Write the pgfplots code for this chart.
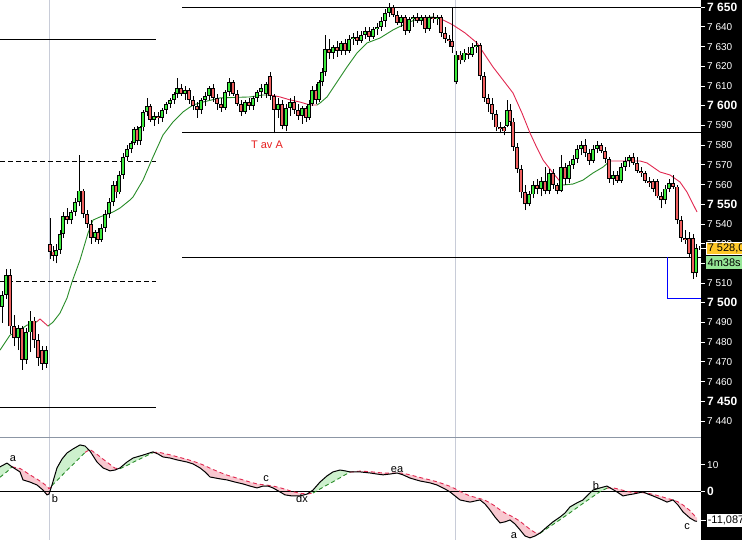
\documentclass[border=0pt]{standalone}
\usepackage{pgfplots}
\pgfplotsset{compat=1.18}
\usepackage{pgfplotstable}
\usepackage{fontspec}
\setmainfont{Liberation Sans}

\definecolor{cgreen}{RGB}{60,235,60}
\definecolor{cred}{RGB}{240,96,96}
\definecolor{magreen}{RGB}{40,140,40}
\definecolor{mared}{RGB}{225,40,80}
\definecolor{fgreen}{RGB}{205,240,205}
\definecolor{fpink}{RGB}{248,200,208}
\definecolor{tred}{RGB}{230,30,30}
\definecolor{vgray}{RGB}{200,204,216}
\definecolor{sepgray}{RGB}{140,150,165}
\definecolor{pyellow}{RGB}{255,200,40}
\definecolor{tgreen}{RGB}{150,230,150}

\newcommand{\nl}[1]{\fontsize{10bp}{12bp}\selectfont #1}
\newcommand{\bl}[1]{\fontsize{12bp}{14bp}\selectfont\bfseries #1}
\newcommand{\lbl}{\fontsize{11bp}{13bp}\selectfont}

\pgfplotstableread{
x o h l c
2 7498 7506 7490 7504
6 7504 7517 7502 7514
10 7514 7517 7484 7488
14 7488 7494 7478 7482
18 7482 7489 7476 7487
22 7487 7488 7466 7471
26 7471 7487 7469 7485
30 7485 7496 7475 7491
34 7491 7493 7477 7481
38 7481 7484 7468 7472
42 7476 7478 7466 7469
46 7469 7478 7467 7476
50 7530 7543 7522 7526
53 7526 7529 7521 7524
56 7524 7530 7520 7527
60 7527 7537 7525 7535
63 7535 7546 7533 7544
67 7544 7548 7540 7542
71 7542 7547 7540 7546
75 7546 7553 7544 7551
79 7551 7575 7549 7557
83 7557 7558 7543 7545
87 7545 7547 7538 7540
91 7540 7542 7530 7533
95 7533 7537 7531 7536
98 7536 7538 7530 7532
101 7532 7540 7531 7538
105 7538 7547 7536 7545
109 7545 7553 7543 7551
113 7551 7562 7549 7560
116 7560 7562 7553 7556
119 7556 7567 7555 7565
123 7565 7576 7563 7574
127 7574 7580 7572 7578
131 7578 7582 7576 7581
134 7581 7589 7580 7588
137 7588 7590 7580 7582
140 7582 7590 7580 7589
143 7589 7598 7587 7597
147 7597 7604 7595 7600
150 7600 7601 7592 7593
154 7593 7597 7590 7595
158 7595 7597 7591 7594
162 7594 7599 7592 7598
166 7598 7602 7596 7601
170 7601 7604 7599 7603
174 7603 7607 7601 7606
177 7606 7614 7604 7609
181 7609 7611 7605 7606
185 7606 7610 7603 7608
189 7608 7609 7601 7603
193 7603 7605 7598 7600
197 7600 7602 7594 7598
201 7598 7604 7596 7603
205 7603 7607 7600 7605
209 7605 7610 7603 7609
213 7609 7611 7602 7604
217 7604 7606 7598 7601
221 7601 7604 7597 7599
225 7599 7608 7598 7607
229 7607 7614 7605 7612
233 7612 7613 7605 7606
237 7606 7608 7600 7601
241 7601 7603 7595 7597
245 7597 7603 7596 7602
249 7602 7604 7598 7600
253 7600 7605 7598 7604
257 7604 7608 7602 7607
261 7607 7611 7604 7609
266 7606 7612 7604 7611
270 7615 7617 7603 7605
274 7605 7606 7586 7598
278 7598 7604 7594 7601
282 7601 7603 7588 7590
286 7590 7601 7587 7599
290 7599 7604 7595 7602
294 7602 7605 7596 7598
298 7598 7601 7593 7595
302 7595 7600 7591 7599
306 7599 7600 7592 7594
309 7594 7603 7593 7601
312 7601 7610 7600 7608
316 7608 7611 7601 7603
319 7603 7613 7602 7612
322 7612 7619 7610 7617
325 7617 7636 7615 7629
329 7629 7634 7624 7627
333 7627 7631 7624 7630
337 7630 7633 7625 7628
341 7628 7633 7626 7632
345 7632 7634 7626 7628
349 7628 7636 7627 7634
353 7634 7637 7631 7635
357 7635 7638 7631 7633
361 7633 7638 7632 7636
365 7636 7640 7634 7638
369 7638 7640 7633 7635
373 7635 7640 7634 7639
377 7639 7642 7636 7640
381 7640 7645 7638 7643
385 7643 7649 7640 7647
389 7647 7652 7645 7650
393 7650 7651 7645 7646
397 7646 7648 7641 7642
401 7642 7646 7640 7645
405 7645 7646 7636 7638
409 7638 7645 7637 7644
413 7644 7646 7640 7645
417 7645 7647 7642 7643
421 7643 7646 7641 7645
425 7645 7646 7637 7639
429 7639 7646 7638 7645
433 7645 7647 7642 7644
437 7644 7646 7641 7645
441 7645 7646 7635 7637
445 7637 7640 7632 7634
449 7634 7636 7630 7633
452 7633 7650 7627 7630
456 7612 7628 7611 7626
460 7626 7628 7621 7623
464 7623 7629 7622 7627
468 7627 7630 7624 7626
472 7626 7632 7625 7630
476 7630 7633 7627 7631
480 7631 7632 7613 7615
484 7615 7617 7602 7604
488 7604 7606 7597 7601
492 7601 7604 7593 7596
496 7596 7598 7587 7589
500 7589 7592 7586 7588
504 7589 7590 7585 7587
507 7590 7603 7589 7598
510 7598 7601 7590 7592
513 7592 7594 7577 7579
517 7579 7581 7566 7568
521 7568 7570 7553 7556
525 7556 7560 7547 7550
529 7550 7557 7549 7555
533 7555 7562 7553 7560
537 7560 7563 7555 7558
541 7558 7564 7554 7562
545 7562 7569 7555 7557
549 7557 7568 7555 7566
553 7566 7568 7558 7560
557 7560 7561 7555 7557
561 7557 7575 7556 7569
565 7569 7571 7560 7563
569 7563 7572 7561 7570
573 7570 7575 7568 7573
577 7573 7580 7571 7578
581 7578 7582 7575 7580
585 7580 7583 7574 7576
589 7576 7578 7570 7572
593 7572 7580 7571 7578
597 7578 7582 7576 7580
601 7580 7581 7576 7577
605 7577 7579 7571 7573
609 7573 7574 7561 7563
613 7563 7567 7560 7565
617 7565 7567 7561 7562
621 7562 7571 7561 7569
625 7569 7574 7567 7572
629 7572 7575 7569 7574
633 7574 7576 7570 7571
637 7571 7574 7566 7567
641 7567 7569 7564 7566
645 7566 7567 7561 7562
649 7562 7564 7559 7561
653 7562 7563 7556 7558
657 7562 7563 7553 7554
661 7554 7556 7548 7552
665 7552 7560 7550 7558
669 7558 7563 7556 7561
673 7561 7565 7558 7559
677 7559 7560 7540 7542
681 7542 7544 7531 7533
685 7533 7537 7530 7532
689 7533 7536 7523 7525
693 7533 7535 7512 7515
696 7515 7530 7513 7528
699 7528 7529 7527 7528
}\candles

\pgfplotstableread{
x v s
0 9.3 5.4
7 10.7 7.5
12 9.3 9.3
20 7.4 8.7
23 4.4 8.0
30 3.6 6.3
37 2.5 4.7
43 0.6 3.2
47 -1.2 2.0
49 -0.9 1.1
52 2.5 2.3
57 8.9 4.2
62 12.2 6.1
67 14.5 8.0
73 16.0 10.2
80 17.5 12.8
85 17.1 14.7
90 15.2 15.8
97 11.1 14.0
103 8.9 12.2
110 7.8 10.2
115 8.1 8.8
120 8.9 8.6
127 11.1 9.8
133 12.6 11.0
143 13.7 12.8
153 14.9 14.6
158 14.1 14.8
163 13.0 14.4
170 12.6 13.8
177 11.9 13.1
187 11.1 12.1
193 10.4 11.4
200 8.9 10.5
205 7.4 9.7
210 5.5 8.8
220 4.8 7.2
227 4.4 6.2
235 3.6 5.3
243 2.9 4.4
250 2.1 3.6
257 1.4 2.9
263 2.1 2.6
268 2.1 2.4
273 1.4 2.1
280 -0.1 1.5
285 -1.2 0.9
292 -1.6 0.1
300 -1.6 -0.6
307 -0.9 -0.9
313 0.6 -0.5
320 3.6 1.0
327 5.9 2.5
333 7.4 3.7
340 8.1 5.2
345 7.8 6.3
350 7.4 7.3
360 7.4 7.7
370 7.0 7.5
377 6.6 7.2
383 6.3 7.0
390 6.6 6.9
397 7.0 7.0
403 6.3 6.9
410 5.1 6.3
420 4.0 5.3
430 3.3 4.4
437 2.5 3.7
445 1.0 2.7
450 -0.1 2.0
455 -1.6 1.1
460 -3.1 0.1
465 -3.5 -0.8
470 -3.9 -1.6
475 -3.5 -2.1
480 -3.1 -2.6
485 -4.6 -3.2
490 -6.9 -4.2
495 -9.5 -5.4
500 -11.7 -6.8
505 -11.3 -8.0
510 -10.6 -8.9
515 -12.1 -9.9
520 -14.3 -11.1
525 -16.6 -12.6
530 -17.3 -14.1
535 -16.6 -15.3
540 -15.5 -15.6
547 -13.2 -13.8
553 -11.3 -12.3
560 -9.5 -10.5
565 -8.0 -9.2
570 -5.7 -7.9
577 -4.2 -6.0
583 -3.1 -4.4
588 -1.2 -3.1
593 0.6 -1.8
600 1.4 0.0
607 2.1 1.3
612 1.0 1.5
617 -0.1 1.1
623 -1.6 0.5
628 -1.2 0.0
633 -0.9 -0.3
638 -0.5 -0.4
643 -0.1 -0.4
648 -0.9 -0.6
653 -1.6 -1.0
660 -2.7 -1.7
667 -3.9 -2.5
673 -3.1 -3.1
678 -5.0 -3.8
683 -7.6 -5.0
690 -9.9 -7.1
695 -11.0 -9.2
697 -11.1 -9.8
}\osc

\begin{document}
\begin{tikzpicture}
\useasboundingbox (0bp,0bp) rectangle (742bp,540bp);
\fill[black] (701bp,0bp) rectangle (742bp,540bp);
% ---------------- oscillator panel ----------------
\begin{axis}[
  name=bot, at={(0bp,0bp)}, anchor=south west,
  scale only axis, width=701bp, height=102bp,
  xmin=0, xmax=701, ymin=-18.1, ymax=20.1,
  axis line style={draw=none},
  xtick=\empty,
  extra x ticks={49,455}, extra x tick labels={},
  extra x tick style={grid=major, major grid style={color=vgray, line width=1bp}, major tick length=0pt},
  ytick={0,10}, yticklabels={\bl{0},\nl{10}},
  ytick pos=right, yticklabel pos=right,
  tick align=outside, major tick length=4bp,
  ytick style={white, line width=1bp},
  yticklabel style={text=white, anchor=west, inner xsep=2bp},
]
% shaded regions between oscillator and its signal line
\addplot[fill=fgreen, draw=none] coordinates {(0,9.3)(7,10.7)(12,9.3)(7,7.5)(0,5.4)};
\addplot[fill=fpink, draw=none] coordinates {(12,9.3)(20,7.4)(23,4.4)(30,3.6)(37,2.5)(43,0.6)(47,-1.2)(49,-0.9)(51.8,2.3)(49,1.1)(47,2.0)(43,3.2)(37,4.7)(30,6.3)(23,8.0)(20,8.7)};
\addplot[fill=fgreen, draw=none] coordinates {(51.8,2.3)(57,8.9)(62,12.2)(67,14.5)(73,16.0)(80,17.5)(85,17.1)(89,15.6)(85,14.7)(80,12.8)(73,10.2)(67,8.0)(62,6.1)(57,4.2)};
\addplot[fill=fpink, draw=none] coordinates {(89,15.6)(90,15.2)(97,11.1)(103,8.9)(110,7.8)(115,8.1)(118.5,8.7)(115,8.8)(110,10.2)(103,12.2)(97,14.0)(90,15.8)};
\addplot[fill=fgreen, draw=none] coordinates {(118.5,8.7)(120,8.9)(127,11.1)(133,12.6)(143,13.7)(153,14.9)(154.5,14.7)(153,14.6)(143,12.8)(133,11.0)(127,9.8)(120,8.6)};
\addplot[fill=fpink, draw=none] coordinates {(154.5,14.7)(158,14.1)(163,13.0)(170,12.6)(177,11.9)(187,11.1)(193,10.4)(200,8.9)(205,7.4)(210,5.5)(220,4.8)(227,4.4)(235,3.6)(243,2.9)(250,2.1)(257,1.4)(263,2.1)(268,2.1)(273,1.4)(280,-0.1)(285,-1.2)(292,-1.6)(300,-1.6)(307,-0.9)(300,-0.6)(292,0.1)(285,0.9)(280,1.5)(273,2.1)(268,2.4)(263,2.6)(257,2.9)(250,3.6)(243,4.4)(235,5.3)(227,6.2)(220,7.2)(210,8.8)(205,9.7)(200,10.5)(193,11.4)(187,12.1)(177,13.1)(170,13.8)(163,14.4)(158,14.8)};
\addplot[fill=fgreen, draw=none] coordinates {(307,-0.9)(313,0.6)(320,3.6)(327,5.9)(333,7.4)(340,8.1)(345,7.8)(350,7.4)(352.5,7.4)(350,7.3)(345,6.3)(340,5.2)(333,3.7)(327,2.5)(320,1.0)(313,-0.5)};
\addplot[fill=fpink, draw=none] coordinates {(352.5,7.4)(360,7.4)(370,7.0)(377,6.6)(383,6.3)(390,6.6)(397,7.0)(403,6.3)(410,5.1)(420,4.0)(430,3.3)(437,2.5)(445,1.0)(450,-0.1)(455,-1.6)(460,-3.1)(465,-3.5)(470,-3.9)(475,-3.5)(480,-3.1)(485,-4.6)(490,-6.9)(495,-9.5)(500,-11.7)(505,-11.3)(510,-10.6)(515,-12.1)(520,-14.3)(525,-16.6)(530,-17.3)(535,-16.6)(539.6,-15.6)(535,-15.3)(530,-14.1)(525,-12.6)(520,-11.1)(515,-9.9)(510,-8.9)(505,-8.0)(500,-6.8)(495,-5.4)(490,-4.2)(485,-3.2)(480,-2.6)(475,-2.1)(470,-1.6)(465,-0.8)(460,0.1)(455,1.1)(450,2.0)(445,2.7)(437,3.7)(430,4.4)(420,5.3)(410,6.3)(403,6.9)(397,7.0)(390,6.9)(383,7.0)(377,7.2)(370,7.5)(360,7.7)};
\addplot[fill=fgreen, draw=none] coordinates {(539.6,-15.6)(540,-15.5)(547,-13.2)(553,-11.3)(560,-9.5)(565,-8.0)(570,-5.7)(577,-4.2)(583,-3.1)(588,-1.2)(593,0.6)(600,1.4)(607,2.1)(610.1,1.45)(607,1.3)(600,0.0)(593,-1.8)(588,-3.1)(583,-4.4)(577,-6.0)(570,-7.9)(565,-9.2)(560,-10.5)(553,-12.3)(547,-13.8)(540,-15.6)};
\addplot[fill=fpink, draw=none] coordinates {(610.1,1.45)(612,1.0)(617,-0.1)(623,-1.6)(628,-1.2)(633,-0.9)(638,-0.5)(643,-0.1)(648,-0.9)(653,-1.6)(660,-2.7)(667,-3.9)(673,-3.1)(678,-5.0)(683,-7.6)(690,-9.9)(695,-11.0)(697,-11.1)(697,-9.8)(695,-9.2)(690,-7.1)(683,-5.0)(678,-3.8)(673,-3.1)(667,-2.5)(660,-1.7)(653,-1.0)(648,-0.6)(643,-0.4)(638,-0.4)(633,-0.3)(628,0.0)(623,0.5)(617,1.1)(612,1.5)};
\addplot[black, line width=1bp] coordinates {(0,0) (701,0)};
% signal line: red dashed where above, green dashed where below
\addplot[mared, line width=0.9bp, dash pattern=on 4bp off 3bp, restrict x to domain=12:52] table[x=x, y=s] {\osc};
\addplot[mared, line width=0.9bp, dash pattern=on 4bp off 3bp, restrict x to domain=85:120] table[x=x, y=s] {\osc};
\addplot[mared, line width=0.9bp, dash pattern=on 4bp off 3bp, restrict x to domain=153:313] table[x=x, y=s] {\osc};
\addplot[mared, line width=0.9bp, dash pattern=on 4bp off 3bp, restrict x to domain=350:540] table[x=x, y=s] {\osc};
\addplot[mared, line width=0.9bp, dash pattern=on 4bp off 3bp, restrict x to domain=607:697] table[x=x, y=s] {\osc};
\addplot[magreen, line width=0.9bp, dash pattern=on 4bp off 3bp, restrict x to domain=0:12] table[x=x, y=s] {\osc};
\addplot[magreen, line width=0.9bp, dash pattern=on 4bp off 3bp, restrict x to domain=52:85] table[x=x, y=s] {\osc};
\addplot[magreen, line width=0.9bp, dash pattern=on 4bp off 3bp, restrict x to domain=120:153] table[x=x, y=s] {\osc};
\addplot[magreen, line width=0.9bp, dash pattern=on 4bp off 3bp, restrict x to domain=313:350] table[x=x, y=s] {\osc};
\addplot[magreen, line width=0.9bp, dash pattern=on 4bp off 3bp, restrict x to domain=540:607] table[x=x, y=s] {\osc};
\addplot[black, line width=1bp] table[x=x, y=v] {\osc};
\node[font=\lbl] at (axis cs:13,12.2) {a};
\node[font=\lbl] at (axis cs:55,-2.6) {b};
\node[font=\lbl] at (axis cs:266,4.9) {c};
\node[font=\lbl] at (axis cs:302,-2.6) {dx};
\node[font=\lbl] at (axis cs:397,8.2) {ea};
\node[font=\lbl] at (axis cs:514,-16.4) {a};
\node[font=\lbl] at (axis cs:596,2.4) {b};
\node[font=\lbl] at (axis cs:687,-13.2) {c};
\coordinate (obox) at (axis cs:706,-10.8);
\coordinate (otick) at (axis cs:701,-10.8);
\end{axis}
\draw[white, line width=1bp] (otick) -- (obox);
\node[fill=white, draw=black, line width=0.6bp, text=black, anchor=west, inner xsep=1.5bp, inner ysep=0pt, minimum height=14bp, font=\lbl] at (obox) {-11,087};
% ---------------- price panel ----------------
\begin{axis}[
  name=top, at={(bot.north west)}, anchor=south west,
  scale only axis, width=701bp, height=438bp,
  xmin=0, xmax=701, ymin=7431.4, ymax=7653.7,
  axis line style={draw=none},
  xtick=\empty,
  extra x ticks={49,455}, extra x tick labels={},
  extra x tick style={grid=major, major grid style={color=vgray, line width=1bp}, major tick length=0pt},
  ytick={7440,7450,7460,7470,7480,7490,7500,7510,7520,7530,7540,7550,7560,7570,7580,7590,7600,7610,7620,7630,7640,7650},
  yticklabels={\nl{7 440},\bl{7 450},\nl{7 460},\nl{7 470},\nl{7 480},\nl{7 490},\bl{7 500},\nl{7 510},\nl{7 520},\nl{7 530},\nl{7 540},\bl{7 550},\nl{7 560},\nl{7 570},\nl{7 580},\nl{7 590},\bl{7 600},\nl{7 610},\nl{7 620},\nl{7 630},\nl{7 640},\bl{7 650}},
  ytick pos=right, yticklabel pos=right,
  tick align=outside, major tick length=4bp,
  ytick style={white, line width=1bp},
  yticklabel style={text=white, anchor=west, inner xsep=2bp},
]
% level lines
\addplot[black, line width=1bp] coordinates {(182,7650) (701,7650)};
\addplot[black, line width=1bp] coordinates {(0,7633.8) (156,7633.8)};
\addplot[black, line width=1bp] coordinates {(182,7586.5) (701,7586.5)};
\addplot[black, line width=1bp, dash pattern=on 5bp off 3bp] coordinates {(0,7571.8) (156,7571.8)};
\addplot[black, line width=1bp] coordinates {(182,7523.1) (701,7523.1)};
\addplot[black, line width=1bp, dash pattern=on 5bp off 3bp] coordinates {(0,7510.6) (156,7510.6)};
\addplot[black, line width=1bp] coordinates {(0,7446.9) (156,7446.9)};
\addplot[blue, line width=1bp] coordinates {(667,7523.1) (667,7502.4) (701,7502.4)};
% moving average
\addplot[magreen, line width=0.9bp] coordinates {(0,7476) (10,7483.6) (17,7485.2) (27,7488.7) (33,7489.2) (37,7490.5)};
\addplot[mared, line width=0.9bp] coordinates {(37,7490.5) (40,7491.8) (48,7488.2)};
\addplot[magreen, line width=0.9bp] coordinates {(48,7488.2) (53,7490.2) (60,7494.8) (67,7502.4) (72,7510.6) (80,7521.7) (88,7535.4) (93,7542) (100,7543.6) (113,7546.1) (120,7548.1) (130,7552.2) (133,7553.7) (143,7562.3) (153,7574) (163,7585.2) (173,7591.8) (183,7596.9) (193,7600.4) (203,7601.9) (220,7604) (250,7604.5) (263,7605.5) (270,7605.5)};
\addplot[mared, line width=0.9bp] coordinates {(270,7605.5) (280,7604.5) (290,7603) (300,7601.9) (310,7600.4) (317,7600.4)};
\addplot[magreen, line width=0.9bp] coordinates {(317,7600.4) (320,7601.4) (327,7604.5) (337,7612.1) (347,7619.7) (357,7626.8) (367,7631.9) (380,7634.4) (393,7638.5) (407,7642) (420,7644.6) (433,7645.1)};
\addplot[mared, line width=0.9bp] coordinates {(433,7645.1) (443,7643.6) (453,7641) (465,7637) (477,7631.9) (493,7619.7) (503,7613.1) (513,7606.5) (522,7596.3) (530,7586.2) (537,7578.6) (543,7572.5) (553,7565.9) (563,7559.8)};
\addplot[magreen, line width=0.9bp] coordinates {(563,7559.8) (573,7560.3) (583,7562.3) (593,7565.9) (603,7568.9) (610,7572)};
\addplot[mared, line width=0.9bp] coordinates {(610,7572) (640,7572) (647,7571) (660,7566.4) (670,7564.9) (680,7561.3) (687,7556.2) (697,7546.1)};
% candles: wicks
\addplot[draw=none, mark=none, error bars/.cd, y dir=plus, y explicit, error mark=none,
  error bar style={draw=black, line width=0.9bp, line cap=butt, solid}]
  table[x=x, y=l, y error plus expr=\thisrow{h}-\thisrow{l}] {\candles};
% bodies outline
\addplot[draw=none, mark=none, error bars/.cd, y dir=plus, y explicit, error mark=none,
  error bar style={draw=black, line width=3.6bp, line cap=butt, solid}]
  table[x=x, y expr={min(\thisrow{o},\thisrow{c})}, y error plus expr={abs(\thisrow{c}-\thisrow{o})}] {\candles};
% green bodies
\addplot[draw=none, mark=none, restrict expr to domain={\thisrow{c}-\thisrow{o}}{0:1000}, unbounded coords=jump,
  error bars/.cd, y dir=plus, y explicit, error mark=none,
  error bar style={draw=cgreen, line width=1.8bp, line cap=butt, solid}]
  table[x=x, y expr={min(\thisrow{o},\thisrow{c})+0.45}, y error plus expr={max(abs(\thisrow{c}-\thisrow{o})-0.9,0)}] {\candles};
% red bodies
\addplot[draw=none, mark=none, restrict expr to domain={\thisrow{c}-\thisrow{o}}{-1000:-0.01}, unbounded coords=jump,
  error bars/.cd, y dir=plus, y explicit, error mark=none,
  error bar style={draw=cred, line width=1.8bp, line cap=butt, solid}]
  table[x=x, y expr={min(\thisrow{o},\thisrow{c})+0.45}, y error plus expr={max(abs(\thisrow{c}-\thisrow{o})-0.9,0)}] {\candles};
\node[text=tred, font=\lbl] at (axis cs:267,7580) {T av A};
\coordinate (pbox) at (axis cs:706,7527.8);
\coordinate (ptick) at (axis cs:701,7527.8);
\coordinate (tbox) at (axis cs:706,7520.4);
\end{axis}
\draw[sepgray, line width=1bp] (bot.north west) -- (bot.north east);
\draw[white, line width=1bp] (ptick) -- (pbox);
\node[fill=pyellow, draw=white, line width=0.5bp, text=black, anchor=west, inner xsep=1.5bp, inner ysep=0pt, minimum height=12bp, font=\lbl] at (pbox) {7 528,0};
\node[fill=tgreen, text=black, anchor=west, inner xsep=1.5bp, inner ysep=0pt, minimum height=13bp, font=\lbl] at (tbox) {4m38s};
\end{tikzpicture}
\end{document}
